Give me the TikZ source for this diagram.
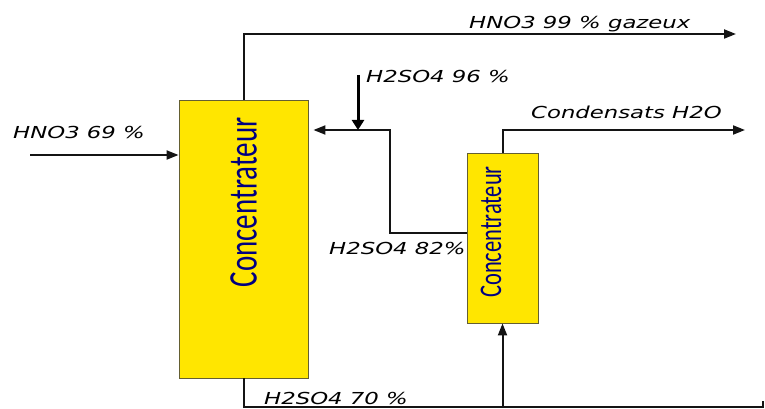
\documentclass[tikz,border=0pt]{standalone}
\usepackage{fontspec}
\setmainfont{DejaVu Sans}
\newfontfamily\boxfont{Carlito}
\usetikzlibrary{arrows.meta}
\definecolor{boxyellow}{RGB}{255,230,0}
\definecolor{boxnavy}{RGB}{0,0,128}
\definecolor{boxedge}{RGB}{100,95,50}
\definecolor{flowgray}{RGB}{20,20,20}
\newcommand{\lbl}[1]{\scalebox{1.38}[1]{\fontsize{16.5}{19}\selectfont\itshape #1}}
\newcommand{\unittext}[2]{\scalebox{1}[1.4]{\boxfont\fontsize{#1}{#1}\selectfont #2}}
\begin{document}
\begin{tikzpicture}[x=1pt,y=-1pt,
  flow/.style={line width=2pt, draw=flowgray},
  arr/.style={-{Triangle[length=12pt,width=9pt]}},
  unit/.style={draw=boxedge, line width=0.9pt, fill=boxyellow, inner sep=0pt},
  unittxt/.style={rotate=90, text=boxnavy, inner sep=0pt},
  lab/.style={anchor=base west, inner sep=0pt, text=black}]
\useasboundingbox (0,0) rectangle (765,409);

% units
\node[unit, minimum width=129pt, minimum height=278pt] (big) at (243.5,239) {};
\node[unittxt] (bigtxt) at (243.5,202.5) {\unittext{29}{Concentrateur}};
\node[unit, minimum width=71pt, minimum height=170pt] (small) at (502.5,238) {};
\node[unittxt] (smalltxt) at (491,232) {\unittext{22.5}{Concentrateur}};

% coordinates
\coordinate (topbend) at (243.5,34);
\coordinate (topend) at (736,34);
\coordinate (hin) at (30,155);
\coordinate (acid) at (358,75);
\coordinate (junction) at (358,130);
\coordinate (recA) at (390,233);
\coordinate (recB) at (390,130);
\coordinate (condbend) at (502.5,130);
\coordinate (condend) at (745,130);
\coordinate (botbend) at (243.5,407);
\coordinate (botend) at (763,407);
\coordinate (tick) at (763,401);
\coordinate (feed) at (502.5,407);

% connectors
\draw[flow,arr] (big.north) -- (topbend) -- (topend);
\draw[flow,arr] (hin) -- (hin -| big.west);
\draw[flow,arr,shorten >=5pt] (recA -| small.west) -- (recA) -- (recB) -- (recB -| big.east);
\draw[line width=3pt, draw=black, -{Triangle[length=10pt,width=12pt]}] (acid) -- (junction);
\draw[flow,arr] (small.north) -- (condbend) -- (condend);
\draw[flow] (big.south) -- (botbend) -- (botend) -- (tick);
\draw[flow,arr] (feed) -- (small.south);

% labels
\node[lab] (l1) at (469,29) {\lbl{HNO3 99 \% gazeux}};
\node[lab] (l2) at (366,83) {\lbl{H2SO4 96 \%}};
\node[lab] (l3) at (531,118) {\lbl{Condensats H2O}};
\node[lab] (l4) at (13,139) {\lbl{HNO3 69 \%}};
\node[lab] (l5) at (329,254) {\lbl{H2SO4 82\%}};
\node[lab] (l6) at (264,404) {\lbl{H2SO4 70 \%}};
\end{tikzpicture}
\end{document}
